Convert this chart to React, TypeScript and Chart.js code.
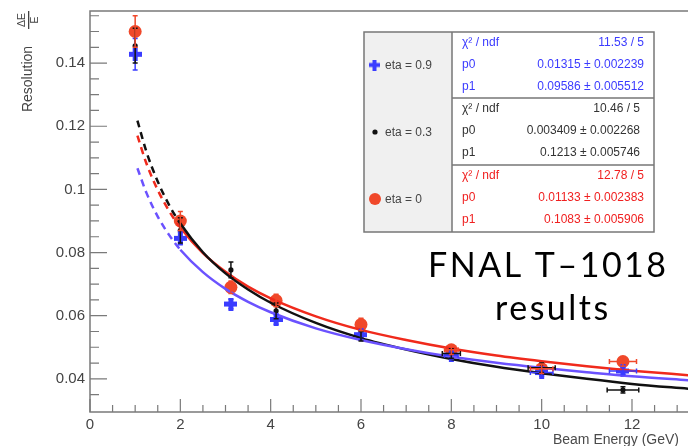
import React, { useEffect, useRef } from "react";
import { Chart, registerables } from "chart.js";
Chart.register(...registerables);

// ---- data ----
const pointE = [1, 2, 3.12, 4.12, 6, 8, 10, 11.8];

const eta0Res = [0.150, 0.0900, 0.0690, 0.0648, 0.0572, 0.0492, 0.0432, 0.0455];
const eta0ErrY = [0.005, 0.003, 0.002, 0.002, 0.002, 0.0015, 0.0015, 0.0015];
const eta0ErrX = [0, 0, 0, 0, 0, 0.15, 0.25, 0.3];

const eta03Res = [0.1455, 0.0870, 0.0745, 0.0615, 0.0535, 0.0480, 0.0435, 0.0365];
const eta03ErrY = [0.0055, 0.004, 0.0025, 0.0025, 0.0015, 0.0015, 0.0015, 0.001];
const eta03ErrX = [0, 0, 0, 0, 0, 0.2, 0.3, 0.35];

const eta09Res = [0.1428, 0.0845, 0.0637, 0.0588, 0.0540, 0.0475, 0.0420, 0.0425];
const eta09ErrY = [0.005, 0.002, 0.0015, 0.0015, 0.0015, 0.0012, 0.0012, 0.0012];
const eta09ErrX = [0, 0, 0, 0, 0, 0.15, 0.25, 0.3];

const fitE = [1.05, 1.25, 1.5, 1.75, 2, 2.5, 3, 3.5, 4, 5, 6, 7, 8, 9, 10, 11, 12, 13.3];
const fitEta0 = [0.1170, 0.1082, 0.0998, 0.0932, 0.0879, 0.0798, 0.0739, 0.0692, 0.0655, 0.0598, 0.0555, 0.0523, 0.0496, 0.0474, 0.0456, 0.0440, 0.0426, 0.0411];
const fitEta03 = [0.1218, 0.1119, 0.1025, 0.0951, 0.0892, 0.0801, 0.0734, 0.0683, 0.0641, 0.0577, 0.0529, 0.0493, 0.0463, 0.0438, 0.0418, 0.0400, 0.0384, 0.0368];
const fitEta09 = [0.1067, 0.0989, 0.0914, 0.0856, 0.0809, 0.0738, 0.0685, 0.0644, 0.0611, 0.0560, 0.0523, 0.0494, 0.0470, 0.0451, 0.0435, 0.0421, 0.0408, 0.0395];

const xTickValues = [0, 2, 4, 6, 8, 10, 12];
const xTickLabels = ["0", "2", "4", "6", "8", "10", "12"];
const xMinorTicks = [0.5, 1, 1.5, 2.5, 3, 3.5, 4.5, 5, 5.5, 6.5, 7, 7.5, 8.5, 9, 9.5, 10.5, 11, 11.5, 12.5, 13];
const yTickValues = [0.04, 0.06, 0.08, 0.1, 0.12, 0.14];
const yTickLabels = ["0.04", "0.06", "0.08", "0.1", "0.12", "0.14"];
const yMinorTicks = [0.035, 0.045, 0.05, 0.055, 0.065, 0.07, 0.075, 0.085, 0.09, 0.095, 0.105, 0.11, 0.115, 0.125, 0.13, 0.135, 0.145, 0.15, 0.155];

const legendLabels = ["eta = 0.9", "eta = 0.3", "eta = 0"];
const statNames = ["χ² / ndf", "p0", "p1"];
const statEta09 = ["11.53 / 5", "0.01315 ± 0.002239", "0.09586 ± 0.005512"];
const statEta03 = ["10.46 / 5", "0.003409 ± 0.002268", "0.1213 ± 0.005746"];
const statEta0 = ["12.78 / 5", "0.01133 ± 0.002383", "0.1083 ± 0.005906"];

const RED_LINE = "#f02a1c";
const RED_MK = "#f0482a";
const BLUE_LINE = "#6b52ff";
const BLUE_MK = "#3a3cff";
const BLACK = "#111111";
const FONT = "'Liberation Sans', Arial, sans-serif";

function makePlus(color: string, size: number, arm: number) {
  const c = document.createElement("canvas");
  c.width = size;
  c.height = size;
  const g = c.getContext("2d")!;
  g.fillStyle = color;
  const o = (size - arm) / 2;
  g.fillRect(o, 0, arm, size);
  g.fillRect(0, o, size, arm);
  return c;
}

export default function App() {
  const ref = useRef<HTMLCanvasElement | null>(null);

  useEffect(() => {
    document.body.style.margin = "0";
    const canvas = ref.current!;
    const plus = makePlus(BLUE_MK, 13, 5);

    const errSets = [
      { y: eta09Res, ey: eta09ErrY, ex: eta09ErrX, color: BLUE_MK },
      { y: eta03Res, ey: eta03ErrY, ex: eta03ErrX, color: BLACK },
      { y: eta0Res, ey: eta0ErrY, ex: eta0ErrX, color: RED_MK },
    ];

    const framePlugin = {
      id: "frame",
      beforeDatasetsDraw(chart: any) {
        const { ctx, chartArea: a, scales } = chart;
        const xs = scales.x, ys = scales.y;
        ctx.save();
        ctx.strokeStyle = "#7a7a7a";
        ctx.lineWidth = 1.5;
        ctx.beginPath();
        ctx.moveTo(a.right + 2, a.top);
        ctx.lineTo(a.left, a.top);
        ctx.lineTo(a.left, a.bottom);
        ctx.lineTo(a.right + 2, a.bottom);
        ctx.stroke();
        ctx.lineWidth = 1.2;
        ctx.beginPath();
        for (const v of yTickValues) {
          const p = ys.getPixelForValue(v);
          ctx.moveTo(a.left, p); ctx.lineTo(a.left + 17, p);
        }
        for (const v of yMinorTicks) {
          const p = ys.getPixelForValue(v);
          ctx.moveTo(a.left, p); ctx.lineTo(a.left + 9, p);
        }
        for (const v of xTickValues) {
          const p = xs.getPixelForValue(v);
          ctx.moveTo(p, a.bottom); ctx.lineTo(p, a.bottom - 13);
        }
        for (const v of xMinorTicks) {
          const p = xs.getPixelForValue(v);
          ctx.moveTo(p, a.bottom); ctx.lineTo(p, a.bottom - 7);
        }
        ctx.stroke();
        ctx.restore();
      },
      afterDatasetsDraw(chart: any) {
        const { ctx, scales } = chart;
        const xs = scales.x, ys = scales.y;
        ctx.save();
        ctx.lineWidth = 1.5;
        for (const s of errSets) {
          ctx.strokeStyle = s.color;
          ctx.beginPath();
          pointE.forEach((e, i) => {
            const px = xs.getPixelForValue(e);
            const py = ys.getPixelForValue(s.y[i]);
            if (s.ey[i] > 0) {
              const t = ys.getPixelForValue(s.y[i] + s.ey[i]);
              const b = ys.getPixelForValue(s.y[i] - s.ey[i]);
              ctx.moveTo(px, t); ctx.lineTo(px, b);
              ctx.moveTo(px - 2.5, t); ctx.lineTo(px + 2.5, t);
              ctx.moveTo(px - 2.5, b); ctx.lineTo(px + 2.5, b);
            }
            if (s.ex[i] > 0) {
              const l = xs.getPixelForValue(e - s.ex[i]);
              const r = xs.getPixelForValue(e + s.ex[i]);
              ctx.moveTo(l, py); ctx.lineTo(r, py);
              ctx.moveTo(l, py - 2.5); ctx.lineTo(l, py + 2.5);
              ctx.moveTo(r, py - 2.5); ctx.lineTo(r, py + 2.5);
            }
          });
          ctx.stroke();
        }
        ctx.restore();
      },
      afterDraw(chart: any) {
        const { ctx } = chart;
        ctx.save();
        // y title
        ctx.fillStyle = "#444444";
        ctx.translate(28, 79);
        ctx.rotate(-Math.PI / 2);
        ctx.font = `14px ${FONT}`;
        ctx.textAlign = "center";
        ctx.textBaseline = "middle";
        ctx.fillText("Resolution", 0, 0);
        ctx.font = `10.5px ${FONT}`;
        ctx.fillText("ΔE", 59, -6);
        ctx.fillText("E", 59, 7.5);
        ctx.fillRect(50, 0, 18, 1.3);
        ctx.restore();

        // x title
        ctx.save();
        ctx.fillStyle = "#4a4a4a";
        ctx.font = `14px ${FONT}`;
        ctx.textAlign = "right";
        ctx.textBaseline = "alphabetic";
        ctx.fillText("Beam Energy (GeV)", 679, 444);
        ctx.restore();

        // stats box
        ctx.save();
        const L = 364, M = 452, R = 654, T = 32, B = 232;
        const rows = [T, 98, 165, B];
        ctx.fillStyle = "#f0f0f0";
        ctx.fillRect(L, T, M - L, B - T);
        ctx.fillStyle = "#ffffff";
        ctx.fillRect(M, T, R - M, B - T);
        ctx.strokeStyle = "#777777";
        ctx.lineWidth = 1.5;
        ctx.strokeRect(L, T, R - L, B - T);
        ctx.beginPath();
        ctx.moveTo(M, T); ctx.lineTo(M, B);
        ctx.moveTo(M, 98); ctx.lineTo(R, 98);
        ctx.moveTo(M, 165); ctx.lineTo(R, 165);
        ctx.stroke();

        const entryColors = [BLUE_MK, BLACK, RED_MK];
        const statColors = ["#3b3bff", "#333333", "#f02020"];
        const stats = [statEta09, statEta03, statEta0];
        const centers = [65, 132, 199];
        for (let k = 0; k < 3; k++) {
          const cy = centers[k];
          if (k === 0) ctx.drawImage(makePlus(BLUE_MK, 11, 4), 369, cy - 5.5);
          else {
            ctx.fillStyle = entryColors[k];
            ctx.beginPath();
            ctx.arc(375, cy, k === 1 ? 2.6 : 6, 0, Math.PI * 2);
            ctx.fill();
          }
          ctx.fillStyle = "#444444";
          ctx.font = `12px ${FONT}`;
          ctx.textAlign = "left";
          ctx.textBaseline = "middle";
          ctx.fillText(legendLabels[k], 385, cy + 1);
          const top = rows[k];
          ctx.fillStyle = statColors[k];
          for (let r = 0; r < 3; r++) {
            const y = top + 11 + r * 22;
            ctx.textAlign = "left";
            ctx.fillText(statNames[r], 462, y);
            ctx.textAlign = "right";
            ctx.fillText(stats[k][r], k === 1 ? 640 : 644, y);
          }
        }
        ctx.restore();

        // annotation
        ctx.save();
        ctx.fillStyle = "#000000";
        ctx.font = `34px Lato, 'Open Sans', sans-serif`;
        (ctx as any).letterSpacing = "2.5px";
        ctx.textAlign = "left";
        ctx.textBaseline = "alphabetic";
        ctx.fillText("FNAL T–1018", 428, 277);
        ctx.fillText("results", 495, 320);
        ctx.restore();
      },
    };

    const toPts = (xs: number[], ys: number[]) => xs.map((x, i) => ({ x, y: ys[i] }));
    const dashSeg = { borderDash: (c: any) => (c.p1.parsed.x <= 2.001 ? [7, 5] : undefined) };

    const chart = new Chart(canvas, {
      type: "scatter",
      data: {
        datasets: [
          { data: toPts(fitE, fitEta09), showLine: true, borderColor: BLUE_LINE, borderWidth: 2.5, pointRadius: 0, cubicInterpolationMode: "monotone", segment: dashSeg },
          { data: toPts(fitE, fitEta03), showLine: true, borderColor: BLACK, borderWidth: 2.5, pointRadius: 0, cubicInterpolationMode: "monotone", segment: dashSeg },
          { data: toPts(fitE, fitEta0), showLine: true, borderColor: RED_LINE, borderWidth: 2.5, pointRadius: 0, cubicInterpolationMode: "monotone", segment: dashSeg },
          { data: toPts(pointE, eta09Res), showLine: false, pointStyle: plus as any, pointRadius: 6.5 },
          { data: toPts(pointE, eta03Res), showLine: false, pointStyle: "circle", pointRadius: 2.6, backgroundColor: BLACK, borderColor: BLACK, borderWidth: 0 },
          { data: toPts(pointE, eta0Res), showLine: false, pointStyle: "circle", pointRadius: 6.5, backgroundColor: RED_MK, borderColor: RED_MK, borderWidth: 0 },
        ] as any,
      },
      options: {
        animation: false,
        responsive: false,
        layout: { autoPadding: false, padding: { top: 11, right: 0, left: 0, bottom: 0 } },
        plugins: { legend: { display: false }, tooltip: { enabled: false } },
        scales: {
          x: {
            type: "linear",
            min: 0,
            max: 13.24,
            grid: { display: false, drawTicks: false },
            border: { display: false },
            afterBuildTicks: (s: any) => { s.ticks = xTickValues.map((v) => ({ value: v })); },
            afterFit: (s: any) => { s.height = 34; s.paddingLeft = 0; s.paddingRight = 0; },
            ticks: {
              autoSkip: false,
              padding: 4,
              color: "#444444",
              font: { size: 15, family: FONT },
              callback: (v: any) => { const i = xTickValues.findIndex((t) => Math.abs(t - v) < 1e-9); return i >= 0 ? xTickLabels[i] : ""; },
            },
          },
          y: {
            type: "linear",
            min: 0.0295,
            max: 0.1565,
            grid: { display: false, drawTicks: false },
            border: { display: false },
            afterBuildTicks: (s: any) => { s.ticks = yTickValues.map((v) => ({ value: v })); },
            afterFit: (s: any) => { s.width = 90; s.paddingTop = 0; s.paddingBottom = 0; },
            ticks: {
              autoSkip: false,
              padding: 5,
              color: "#444444",
              font: { size: 15, family: FONT },
              callback: (v: any) => { const i = yTickValues.findIndex((t) => Math.abs(t - v) < 1e-9); return i >= 0 ? yTickLabels[i] : ""; },
            },
          },
        },
      },
      plugins: [framePlugin],
    });
    return () => chart.destroy();
  }, []);

  return (
    <div style={{ width: 688, height: 446 }}>
      <canvas ref={ref} width={688} height={446} />
    </div>
  );
}
